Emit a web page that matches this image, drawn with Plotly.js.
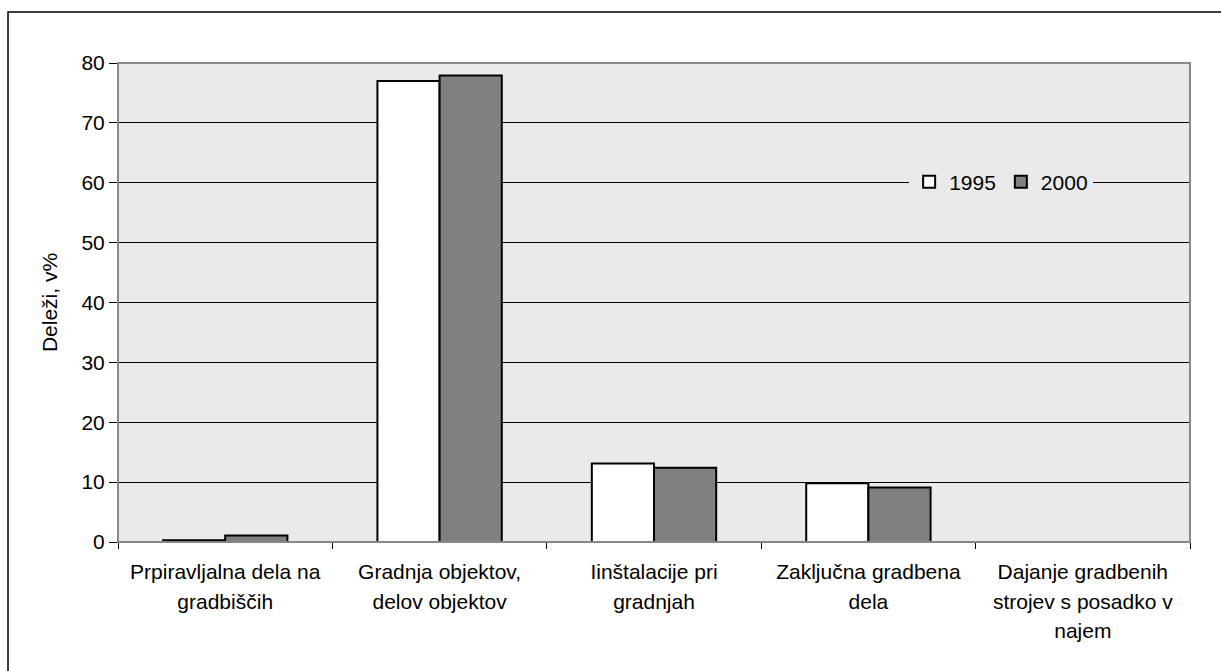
<!DOCTYPE html>
<html>
<head>
<meta charset="utf-8">
<script src="https://cdn.plot.ly/plotly-3.0.1.min.js"></script>
<style>html,body{margin:0;padding:0;background:#fff;}#chart{width:1221px;height:671px;}</style>
</head>
<body>
<div id="chart"></div>
<script>
var categories = [
  "Prpiravljalna dela na<br>gradbiščih",
  "Gradnja objektov,<br>delov objektov",
  "Iinštalacije pri<br>gradnjah",
  "Zaključna gradbena<br>dela",
  "Dajanje gradbenih<br>strojev s posadko v<br>najem"
];
var values1995 = [0.3, 77.0, 13.1, 9.8, 0];
var values2000 = [1.1, 77.9, 12.4, 9.1, 0];
var seriesNames = ["1995", "2000"];
var yTicks = [0, 10, 20, 30, 40, 50, 60, 70, 80];

var tickText = categories.map(function(c){
  return '<span style="font-size:21px">' + c + '</span>';
});

var font = {family: "Liberation Sans, Arial, sans-serif", color: "#000"};

var traces = [
  {type: "bar", name: seriesNames[0], x: categories, y: values1995,
   marker: {color: "#ffffff", line: {color: "#000", width: 2}}},
  {type: "bar", name: seriesNames[1], x: categories, y: values2000,
   marker: {color: "#808080", line: {color: "#000", width: 2}}}
];

var layout = {
  width: 1221, height: 671,
  margin: {l: 118, r: 31, t: 63, b: 129},
  paper_bgcolor: "#ffffff",
  plot_bgcolor: "#eaeaea",
  barmode: "group",
  bargap: 0.42,
  bargroupgap: 0,
  font: {family: font.family, color: "#000", size: 21},
  showlegend: true,
  legend: {
    orientation: "h", x: 0.738, xanchor: "left", y: 0.7516, yanchor: "middle",
    bgcolor: "#eaeaea", font: {size: 21, family: font.family, color: "#000"},
    itemwidth: 30, traceorder: "normal"
  },
  xaxis: {
    type: "category",
    tickmode: "array", tickvals: categories, ticktext: tickText,
    tickfont: {size: 23, family: font.family, color: "#000"},
    ticklabelstandoff: 8,
    showline: true, linecolor: "#000", linewidth: 1,
    ticks: "outside", tickson: "boundaries", ticklen: 6, tickcolor: "#000",
    showgrid: false, zeroline: false, fixedrange: true
  },
  yaxis: {
    range: [0, 80],
    tickmode: "array", tickvals: yTicks,
    tickfont: {size: 21, family: font.family, color: "#000"},
    showline: true, linecolor: "#000", linewidth: 1,
    ticks: "outside", ticklen: 8, tickcolor: "#000",
    showgrid: true, gridcolor: "#000", gridwidth: 1,
    zeroline: false,
    title: {text: "Deleži, v%", font: {size: 21, family: font.family, color: "#000"}, standoff: 18},
    fixedrange: true
  },
  shapes: [
    {type: "rect", xref: "paper", yref: "paper", x0: 0, x1: 1, y0: 0, y1: 1,
     line: {color: "#888", width: 2}, fillcolor: "rgba(0,0,0,0)", layer: "above"},
    {type: "rect", xref: "paper", yref: "paper", x0: -0.1026, x1: 1.05, y0: -0.3, y1: 1.1065,
     line: {color: "#000", width: 1.5}, fillcolor: "rgba(0,0,0,0)", layer: "below"}
  ]
};

Plotly.newPlot("chart", traces, layout, {displayModeBar: false, staticPlot: true});
</script>
</body>
</html>
